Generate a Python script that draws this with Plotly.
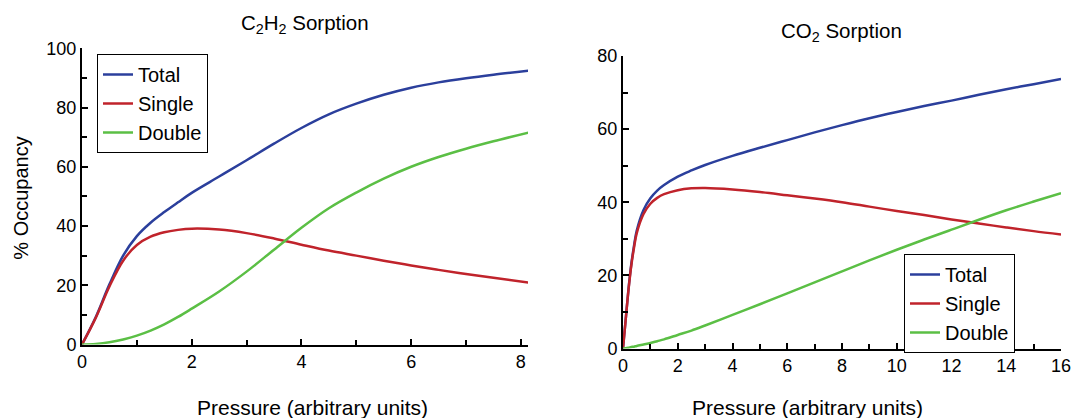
import plotly.graph_objects as go

# ---------------- data ----------------
c2h2_pressure = [0, 0.25, 0.5, 0.75, 1, 1.25, 1.5, 1.75, 2, 2.5, 3, 3.5, 4, 4.5, 5, 5.5, 6, 6.5, 7, 7.5, 8.15]
c2h2_total = [0, 9.2, 20.3, 30.0, 36.6, 41.1, 44.7, 48.0, 51.2, 56.7, 62.2, 67.8, 73.1, 77.7, 81.3, 84.3, 86.7, 88.5, 89.9, 91.1, 92.5]
c2h2_single = [0, 9.0, 19.6, 28.3, 33.6, 36.4, 37.9, 38.7, 39.1, 38.8, 37.6, 35.8, 33.7, 31.7, 30.0, 28.3, 26.7, 25.2, 23.8, 22.5, 20.9]
c2h2_double = [0, 0.2, 0.75, 1.7, 3.0, 4.7, 6.8, 9.3, 12.1, 17.9, 24.6, 32.0, 39.4, 46.0, 51.3, 56.0, 60.0, 63.3, 66.1, 68.6, 71.6]

co2_pressure = [0, 0.1, 0.2, 0.3, 0.4, 0.5, 0.75, 1, 1.25, 1.5, 2, 2.5, 3, 4, 5, 6, 7, 8, 9, 10, 11, 12, 13, 14, 15, 16]
co2_total = [0, 8.1, 16.2, 22.9, 28.0, 32.2, 37.9, 41.1, 43.2, 44.7, 47.0, 48.7, 50.2, 52.7, 54.9, 57.0, 59.1, 61.1, 63.0, 64.7, 66.3, 67.8, 69.4, 70.9, 72.3, 73.7]
co2_single = [0, 8.0, 16.0, 22.5, 27.5, 31.5, 36.8, 39.6, 41.2, 42.2, 43.3, 43.8, 43.9, 43.5, 42.8, 41.9, 41.0, 40.0, 38.8, 37.6, 36.5, 35.3, 34.2, 33.1, 32.1, 31.2]
co2_double = [0, 0.1, 0.2, 0.4, 0.5, 0.7, 1.1, 1.5, 2.0, 2.5, 3.7, 4.9, 6.3, 9.2, 12.1, 15.1, 18.1, 21.1, 24.1, 27.0, 29.8, 32.5, 35.2, 37.8, 40.2, 42.5]

series_names = ["Total", "Single", "Double"]
series_colors = ["#2b3f9c", "#c0232b", "#5bbf45"]

W, H = 1075, 418
FONT = "Liberation Sans, Arial, sans-serif"

fig = go.Figure()

for name, ys, col in zip(series_names, [c2h2_total, c2h2_single, c2h2_double], series_colors):
    fig.add_trace(go.Scatter(x=c2h2_pressure, y=ys, mode="lines", name=name,
                             line=dict(color=col, width=2.5, shape="spline", smoothing=1),
                             xaxis="x", yaxis="y", legend="legend"))
for name, ys, col in zip(series_names, [co2_total, co2_single, co2_double], series_colors):
    fig.add_trace(go.Scatter(x=co2_pressure, y=ys, mode="lines", name=name,
                             line=dict(color=col, width=2.5, shape="spline", smoothing=1),
                             xaxis="x2", yaxis="y2", legend="legend2"))

axis_common = dict(showline=True, linecolor="black", linewidth=2, ticks="inside", ticklen=6,
                   tickwidth=2, tickcolor="black", showgrid=False, zeroline=False,
                   tickfont=dict(size=18, color="black", family=FONT), fixedrange=True,
                   automargin=False)

def minor(d):
    return dict(dtick=d, ticks="inside", ticklen=5, tickwidth=2, tickcolor="black", showgrid=False)

legend_common = dict(xanchor="left", yanchor="top", bgcolor="white", bordercolor="black",
                     borderwidth=1, font=dict(size=20, family=FONT, color="black"), tracegroupgap=0)

fig.update_layout(
    width=W, height=H, autosize=False, margin=dict(l=0, r=0, t=0, b=0, pad=0, autoexpand=False),
    paper_bgcolor="white", plot_bgcolor="white",
    font=dict(family=FONT, color="black"),
    xaxis=dict(axis_common, domain=[82 / W, 528 / W], range=[0, 8.13], anchor="y",
               tick0=0, dtick=2, minor=minor(1)),
    yaxis=dict(axis_common, domain=[(H - 344.5) / H, (H - 48.3) / H], range=[0, 100], anchor="x",
               tick0=0, dtick=20, minor=minor(10)),
    xaxis2=dict(axis_common, domain=[623 / W, 1061 / W], range=[0, 16], anchor="y2",
                tick0=0, dtick=2, minor=minor(1)),
    yaxis2=dict(axis_common, domain=[(H - 348.5) / H, (H - 56) / H], range=[0, 80], anchor="x2",
                tick0=0, dtick=20, minor=minor(10)),
    legend=dict(legend_common, x=97 / W, y=1 - 54 / H),
    legend2=dict(legend_common, x=904 / W, y=1 - 254 / H),
    annotations=[
        dict(text="C<sub>2</sub>H<sub>2</sub> Sorption", x=304.5 / W, y=1 - 24 / H, xref="paper", yref="paper",
             showarrow=False, xanchor="center", yanchor="middle", font=dict(size=20.5, family=FONT)),
        dict(text="CO<sub>2</sub> Sorption", x=841 / W, y=1 - 32 / H, xref="paper", yref="paper",
             showarrow=False, xanchor="center", yanchor="middle", font=dict(size=20.5, family=FONT)),
        dict(text="Pressure (arbitrary units)", x=312 / W, y=1 - 407.5 / H, xref="paper", yref="paper",
             showarrow=False, xanchor="center", yanchor="middle", font=dict(size=21, family=FONT)),
        dict(text="Pressure (arbitrary units)", x=807.5 / W, y=1 - 407.5 / H, xref="paper", yref="paper",
             showarrow=False, xanchor="center", yanchor="middle", font=dict(size=21, family=FONT)),
        dict(text="% Occupancy", x=20.7 / W, y=1 - 198 / H, xref="paper", yref="paper", textangle=-90,
             showarrow=False, xanchor="center", yanchor="middle", font=dict(size=20, family=FONT)),
    ],
)

fig.write_html("out.html",
               post_script="document.body.style.margin='0';document.body.style.overflow='hidden';")
